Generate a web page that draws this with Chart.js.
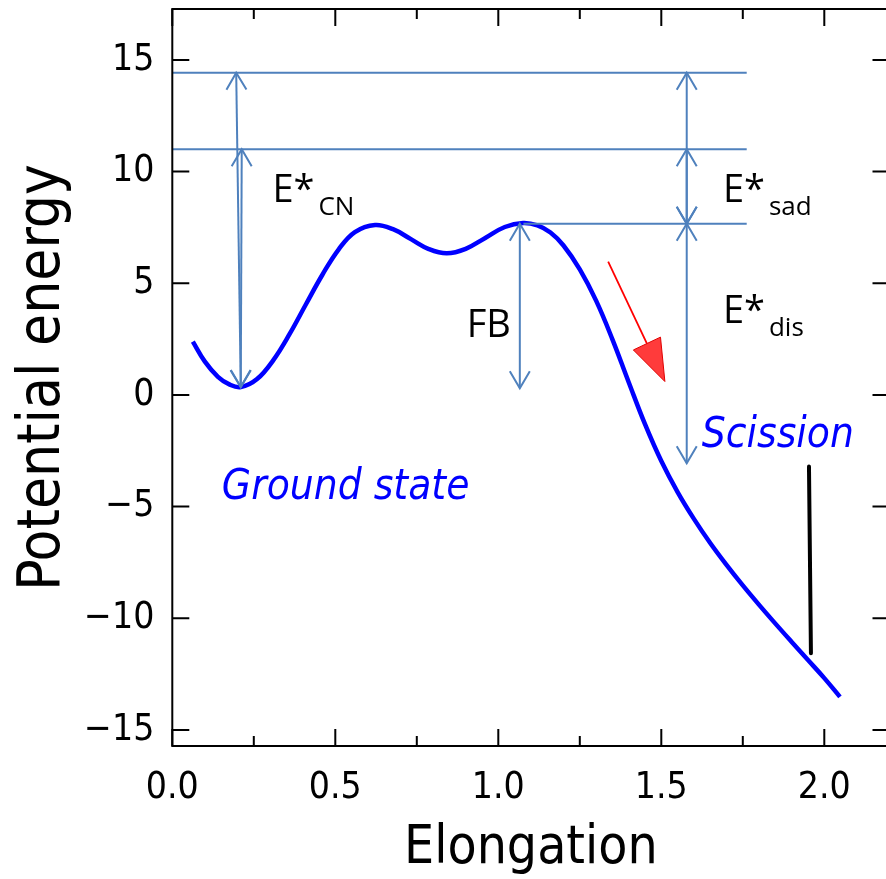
<!DOCTYPE html>
<html>
<head>
<meta charset="utf-8">
<script src="https://cdn.jsdelivr.net/npm/chart.js@4.4.1/dist/chart.umd.min.js"></script>
<style>
  html, body { margin: 0; padding: 0; background: #fff; overflow: hidden; }
  #wrap { width: 892px; height: 879px; }
</style>
</head>
<body>
<div id="wrap"><canvas id="pes" width="892" height="879"></canvas></div>
<script>
// potential energy curve
const elongation = [0.063, 0.10, 0.14, 0.175, 0.21, 0.26, 0.31, 0.36, 0.41, 0.46, 0.51, 0.56, 0.622, 0.677, 0.732, 0.787, 0.842, 0.90, 0.96, 1.02, 1.076, 1.12, 1.16, 1.20, 1.25, 1.30, 1.35, 1.40, 1.45, 1.50, 1.55, 1.60, 1.65, 1.70, 1.75, 1.80, 1.85, 1.90, 1.95, 2.00, 2.048];
const energy     = [2.39, 1.49, 0.81, 0.47, 0.35, 0.71, 1.56, 2.73, 4.06, 5.37, 6.51, 7.29, 7.61, 7.42, 6.975, 6.53, 6.34, 6.54, 7.03, 7.52, 7.70, 7.59, 7.27, 6.69, 5.62, 4.22, 2.49, 0.57, -1.31, -2.96, -4.35, -5.55, -6.63, -7.61, -8.53, -9.40, -10.24, -11.06, -11.87, -12.68, -13.52];

const xTicks = [0, 0.5, 1.0, 1.5, 2.0];
const xMinorTicks = [0.25, 0.75, 1.25, 1.75];
const yTicks = [-15, -10, -5, 0, 5, 10, 15];

// excitation energy levels (E*CN top, E*CN lower, saddle)
const levelValues = [14.43, 11.0, 7.66];
const levelFrom   = [0, 0, 1.077];
const levelTo     = [1.762, 1.762, 1.762];

// double headed arrows: [x0, y0, x1, y1]
const cnArrows   = [[0.196, 14.43, 0.21, 0.35], [0.213, 11.0, 0.21, 0.35]];
const fbArrow    = [1.066, 7.66, 1.066, 0.3];
const sadArrows  = [[1.578, 14.43, 1.578, 7.66], [1.578, 11.0, 1.578, 7.66]];
const disArrow   = [1.578, 7.66, 1.578, -3.06];
const slideArrow = [1.337, 5.97, 1.511, 0.6];

// scission marker
const scissionX = [1.953, 1.959];
const scissionY = [-3.21, -11.57];

const toPts = (xs, ys) => xs.map((x, i) => ({ x: x, y: ys[i] }));

const LEVEL_BLUE = '#4f81bd';
const TICK_FONT = '"DejaVu Sans Condensed", "DejaVu Sans", sans-serif';

function pix(chart, x, y) {
  return [chart.scales.x.getPixelForValue(x), chart.scales.y.getPixelForValue(y)];
}

function openHead(ctx, fx, fy, tx, ty, len, half) {
  const a = Math.atan2(ty - fy, tx - fx);
  const bx = tx - len * Math.cos(a), by = ty - len * Math.sin(a);
  ctx.beginPath();
  ctx.moveTo(bx + half * Math.sin(a), by - half * Math.cos(a));
  ctx.lineTo(tx, ty);
  ctx.lineTo(bx - half * Math.sin(a), by + half * Math.cos(a));
  ctx.stroke();
}

function doubleArrow(chart, arr) {
  const ctx = chart.ctx;
  const [x0, y0] = pix(chart, arr[0], arr[1]);
  const [x1, y1] = pix(chart, arr[2], arr[3]);
  ctx.beginPath();
  ctx.moveTo(x0, y0);
  ctx.lineTo(x1, y1);
  ctx.stroke();
  openHead(ctx, x1, y1, x0, y0, 17, 10);
  openHead(ctx, x0, y0, x1, y1, 17, 10);
}

const annotations = {
  id: 'annotations',
  afterDatasetsDraw(chart) {
    const ctx = chart.ctx;
    ctx.save();
    ctx.strokeStyle = LEVEL_BLUE;
    ctx.lineWidth = 2;
    cnArrows.forEach(a => doubleArrow(chart, a));
    sadArrows.forEach(a => doubleArrow(chart, a));
    doubleArrow(chart, fbArrow);
    doubleArrow(chart, disArrow);

    // red slide arrow
    const [sx, sy] = pix(chart, slideArrow[0], slideArrow[1]);
    const [tx, ty] = pix(chart, slideArrow[2], slideArrow[3]);
    const a = Math.atan2(ty - sy, tx - sx);
    const len = 42, half = 15;
    const bx = tx - len * Math.cos(a), by = ty - len * Math.sin(a);
    ctx.strokeStyle = '#ff0000';
    ctx.lineWidth = 1.8;
    ctx.beginPath();
    ctx.moveTo(sx, sy);
    ctx.lineTo(bx, by);
    ctx.stroke();
    ctx.fillStyle = '#ff3b3b';
    ctx.beginPath();
    ctx.moveTo(tx, ty);
    ctx.lineTo(bx + half * Math.sin(a), by - half * Math.cos(a));
    ctx.lineTo(bx - half * Math.sin(a), by + half * Math.cos(a));
    ctx.closePath();
    ctx.fill();
    ctx.strokeStyle = '#e00000';
    ctx.lineWidth = 1;
    ctx.stroke();

    // labels
    ctx.textBaseline = 'alphabetic';
    ctx.textAlign = 'left';
    const eLabel = (x, y, sub) => {
      const [px, py] = pix(chart, x, y);
      ctx.fillStyle = '#000';
      ctx.font = '38px "Open Sans", sans-serif';
      ctx.fillText('E*', px, py);
      const w = ctx.measureText('E*').width;
      ctx.font = '26px "Open Sans", sans-serif';
      ctx.fillText(sub, px + w + 4, py + 13);
    };
    eLabel(0.307, 8.64, 'CN');
    eLabel(1.689, 8.64, 'sad');
    eLabel(1.689, 3.22, 'dis');

    let p = pix(chart, 0.903, 2.58);
    ctx.fillStyle = '#000';
    ctx.font = '38px "Open Sans", sans-serif';
    ctx.fillText('FB', p[0], p[1]);

    ctx.fillStyle = '#0000ff';
    ctx.font = 'italic 42px ' + TICK_FONT;
    p = pix(chart, 0.152, -4.66);
    ctx.fillText('Ground state', p[0], p[1]);
    p = pix(chart, 1.624, -2.32);
    ctx.fillText('Scission', p[0], p[1]);
    ctx.restore();
  }
};

// box frame with inward ticks on all four sides
const frame = {
  id: 'frame',
  afterDraw(chart) {
    const { ctx, chartArea: ca, scales } = chart;
    ctx.save();
    ctx.strokeStyle = '#000';
    ctx.lineWidth = 2;
    ctx.strokeRect(ca.left, ca.top, ca.right - ca.left, ca.bottom - ca.top);
    ctx.beginPath();
    const xTick = (v, l) => {
      const x = scales.x.getPixelForValue(v);
      ctx.moveTo(x, ca.bottom); ctx.lineTo(x, ca.bottom - l);
      ctx.moveTo(x, ca.top); ctx.lineTo(x, ca.top + l);
    };
    xTicks.forEach(v => xTick(v, 17));
    xMinorTicks.forEach(v => xTick(v, 10));
    yTicks.forEach(v => {
      const y = scales.y.getPixelForValue(v);
      ctx.moveTo(ca.left, y); ctx.lineTo(ca.left + 17, y);
      ctx.moveTo(ca.right, y); ctx.lineTo(ca.right - 17, y);
    });
    ctx.stroke();
    ctx.restore();
  }
};

const levelSets = levelValues.map((v, i) => ({
  data: toPts([levelFrom[i], levelTo[i]], [v, v]),
  showLine: true,
  borderColor: LEVEL_BLUE,
  borderWidth: 2,
  pointRadius: 0
}));

new Chart(document.getElementById('pes'), {
  type: 'scatter',
  data: {
    datasets: [
      ...levelSets,
      {
        data: toPts(elongation, energy),
        showLine: true,
        borderColor: '#0000ff',
        borderWidth: 4.5,
        pointRadius: 0,
        tension: 0.4
      },
      {
        data: toPts(scissionX, scissionY),
        showLine: true,
        borderColor: '#000',
        borderWidth: 4,
        borderCapStyle: 'round',
        pointRadius: 0
      }
    ]
  },
  options: {
    responsive: false,
    animation: false,
    events: [],
    layout: { padding: { top: 9, right: 2.5, left: 0, bottom: 0 } },
    plugins: { legend: { display: false }, tooltip: { enabled: false } },
    scales: {
      x: {
        type: 'linear',
        min: 0,
        max: 2.2,
        afterFit: s => { s.height = 133; s.paddingLeft = 0; s.paddingRight = 0; },
        afterBuildTicks: s => { s.ticks = xTicks.map(v => ({ value: v })); },
        grid: { display: false },
        border: { display: false },
        ticks: {
          padding: 12,
          color: '#000',
          font: { family: TICK_FONT, size: 37 },
          maxRotation: 0,
          callback: v => v.toFixed(1)
        },
        title: {
          display: true,
          text: 'Elongation',
          color: '#000',
          font: { family: TICK_FONT, size: 53, lineHeight: 1 },
          padding: { top: 0, bottom: 3 }
        }
      },
      y: {
        type: 'linear',
        min: -15.72,
        max: 17.28,
        afterFit: s => { s.width = 172.3; s.paddingTop = 0; s.paddingBottom = 0; },
        afterBuildTicks: s => { s.ticks = yTicks.map(v => ({ value: v })); },
        grid: { display: false },
        border: { display: false },
        ticks: {
          padding: 10,
          color: '#000',
          font: { family: TICK_FONT, size: 37 },
          callback: v => String(v).replace('-', '\u2212')
        },
        title: {
          display: true,
          text: 'Potential energy',
          color: '#000',
          font: { family: TICK_FONT, size: 58, lineHeight: 1 },
          padding: { top: 15, bottom: 0 }
        }
      }
    }
  },
  plugins: [annotations, frame]
});
</script>
</body>
</html>
